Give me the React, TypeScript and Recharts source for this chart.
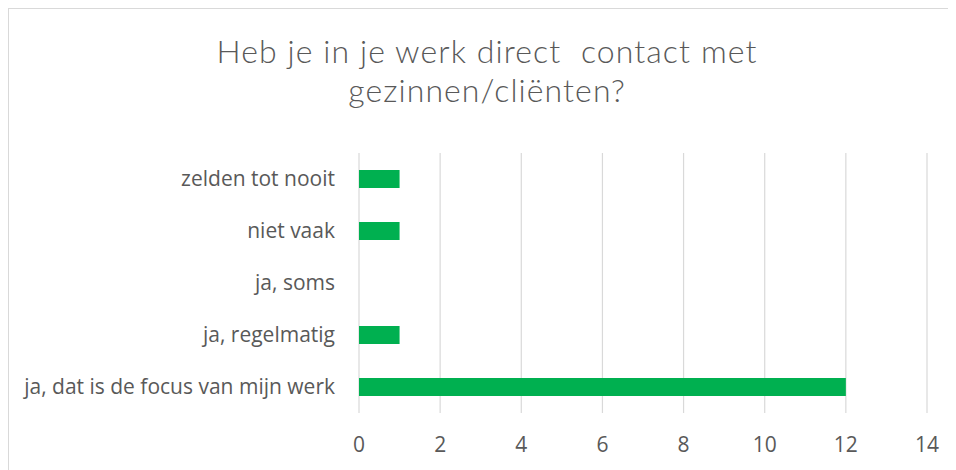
import React from 'react';
import { BarChart, Bar, XAxis, YAxis, CartesianGrid } from 'recharts';

// Answer categories, top to bottom as shown
const categories = [
  'zelden tot nooit',
  'niet vaak',
  'ja, soms',
  'ja, regelmatig',
  'ja, dat is de focus van mijn werk',
];
const counts = [1, 1, 0, 1, 12];
const xTicks = [0, 2, 4, 6, 8, 10, 12, 14];

const titleLines = ['Heb je in je werk direct  contact met', 'gezinnen/cliënten?'];

const data = categories.map((name, i) => ({ name, value: counts[i] }));

const FONT = '"Open Sans", "Liberation Sans", sans-serif';
const TEXT = '#595959';

export default function App() {
  return (
    <div
      style={{
        position: 'relative',
        width: 947,
        height: 461,
        borderTop: '1px solid #d9d9d9',
        borderLeft: '1px solid #d9d9d9',
        background: '#fff',
        overflow: 'hidden',
      }}
    >
      {/* chart title */}
      <div
        style={{
          position: 'absolute',
          left: 78,
          top: 23.25,
          width: 800,
          textAlign: 'center',
          fontFamily: 'Lato, "Open Sans", sans-serif',
          fontWeight: 300,
          fontSize: 32,
          letterSpacing: '1.1px',
          lineHeight: '38.7px',
          color: TEXT,
          whiteSpace: 'pre',
        }}
      >
        {titleLines.map((l) => (
          <div key={l}>{l}</div>
        ))}
      </div>

      <BarChart
        width={947}
        height={461}
        data={data}
        layout="vertical"
        margin={{ top: 144, right: 29, bottom: 0, left: 0 }}
        barCategoryGap="65%"
      >
        <CartesianGrid horizontal={false} stroke="#d9d9d9" strokeWidth={1.2} />
        <XAxis
          type="number"
          domain={[0, 14]}
          ticks={xTicks}
          interval={0}
          axisLine={false}
          tickLine={false}
          tickSize={0}
          tickMargin={24}
          height={57}
          tick={{ fill: TEXT, fontSize: 21, fontFamily: FONT }}
        />
        <YAxis
          type="category"
          dataKey="name"
          width={350}
          axisLine={false}
          tickLine={false}
          tickSize={0}
          tickMargin={24}
          interval={0}
          tick={{ fill: TEXT, fontSize: 21, fontFamily: FONT }}
        />
        <Bar dataKey="value" fill="#00b050" barSize={18} isAnimationActive={false} />
      </BarChart>
    </div>
  );
}
